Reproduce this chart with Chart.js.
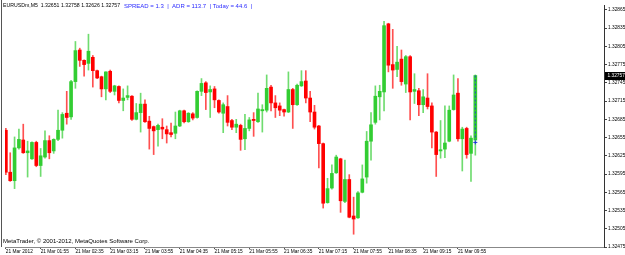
<!DOCTYPE html>
<html><head><meta charset="utf-8">
<script src="https://cdn.jsdelivr.net/npm/chart.js@4.4.0/dist/chart.umd.min.js"></script>
<style>html,body{margin:0;padding:0;background:#fff;overflow:hidden}canvas{display:block}</style>
</head><body>
<canvas id="c" width="625" height="255" style="width:625px;height:255px"></canvas>
<script>
const symbolInfo = 'EURUSDm,M5  1.32651 1.32758 1.32626 1.32757';
const indicatorInfo = 'SPREAD = 1.3  |  ADR = 113.7  | Today = 44.6  |';
const copyright = 'MetaTrader, \u00A9 2001-2012, MetaQuotes Software Corp.';

// bar times: M5 bars from 01:15 to 10:15, 21 Mar 2012
const barTimes = [];
for (let m = 75; m <= 615; m += 5) {
  barTimes.push(String(Math.floor(m / 60)).padStart(2, '0') + ':' + String(m % 60).padStart(2, '0'));
}

const openP = [
1.32667,1.32598,1.32584,1.32638,1.32651,1.32630,1.32620,1.32647,1.32609,1.32623,
1.32650,1.32633,1.32652,1.32667,1.32695,1.32689,1.32747,1.32799,1.32782,1.32777,
1.32787,1.32765,1.32755,1.32735,1.32764,1.32731,1.32739,1.32716,1.32721,1.32723,
1.32685,1.32696,1.32710,1.32682,1.32673,1.32668,1.32672,1.32668,1.32663,1.32662,
1.32674,1.32699,1.32681,1.32694,1.32688,1.32731,1.32745,1.32730,1.32735,1.32716,
1.32695,1.32706,1.32683,1.32672,1.32675,1.32653,1.32670,1.32685,1.32681,1.32699,
1.32700,1.32738,1.32712,1.32707,1.32701,1.32697,1.32734,1.32709,1.32740,1.32748,
1.32720,1.32697,1.32674,1.32645,1.32548,1.32572,1.32597,1.32620,1.32550,1.32586,
1.32526,1.32523,1.32565,1.32590,1.32649,1.32680,1.32722,1.32730,1.32842,1.32775,
1.32767,1.32784,1.32743,1.32788,1.32731,1.32732,1.32709,1.32720,1.32707,1.32664,
1.32633,1.32636,1.32649,1.32701,1.32728,1.32653,1.32670,1.32629,1.32651];
const highP = [
1.32670,1.32630,1.32656,1.32669,1.32677,1.32649,1.32648,1.32649,1.32637,1.32666,
1.32658,1.32653,1.32700,1.32696,1.32731,1.32749,1.32813,1.32802,1.32783,1.32825,
1.32790,1.32766,1.32756,1.32763,1.32766,1.32741,1.32740,1.32735,1.32740,1.32724,
1.32711,1.32728,1.32717,1.32690,1.32674,1.32677,1.32686,1.32674,1.32679,1.32697,
1.32700,1.32700,1.32696,1.32696,1.32732,1.32752,1.32747,1.32740,1.32739,1.32717,
1.32712,1.32724,1.32685,1.32685,1.32677,1.32693,1.32688,1.32696,1.32728,1.32709,
1.32758,1.32741,1.32724,1.32712,1.32702,1.32763,1.32736,1.32743,1.32765,1.32765,
1.32731,1.32708,1.32675,1.32646,1.32588,1.32610,1.32626,1.32621,1.32618,1.32594,
1.32557,1.32566,1.32610,1.32665,1.32696,1.32740,1.32741,1.32846,1.32843,1.32833,
1.32805,1.32799,1.32790,1.32790,1.32760,1.32736,1.32734,1.32760,1.32712,1.32665,
1.32683,1.32707,1.32707,1.32758,1.32752,1.32672,1.32672,1.32658,1.32758];
const lowP = [
1.32594,1.32583,1.32571,1.32636,1.32629,1.32590,1.32619,1.32607,1.32591,1.32621,
1.32620,1.32629,1.32650,1.32654,1.32677,1.32685,1.32736,1.32772,1.32756,1.32766,
1.32738,1.32752,1.32722,1.32717,1.32729,1.32725,1.32712,1.32699,1.32717,1.32683,
1.32684,1.32664,1.32680,1.32636,1.32627,1.32641,1.32653,1.32646,1.32656,1.32653,
1.32673,1.32679,1.32680,1.32684,1.32687,1.32724,1.32701,1.32688,1.32704,1.32695,
1.32663,1.32674,1.32668,1.32663,1.32634,1.32635,1.32666,1.32657,1.32680,1.32664,
1.32697,1.32699,1.32688,1.32691,1.32690,1.32696,1.32670,1.32708,1.32739,1.32712,
1.32681,1.32669,1.32605,1.32539,1.32547,1.32570,1.32596,1.32532,1.32548,1.32523,
1.32496,1.32522,1.32564,1.32580,1.32618,1.32677,1.32684,1.32699,1.32763,1.32736,
1.32755,1.32741,1.32729,1.32684,1.32711,1.32691,1.32696,1.32702,1.32638,1.32591,
1.32621,1.32622,1.32648,1.32700,1.32649,1.32600,1.32621,1.32583,1.32626];
const closeP = [
1.32598,1.32584,1.32638,1.32652,1.32630,1.32633,1.32647,1.32609,1.32625,1.32650,
1.32630,1.32652,1.32667,1.32693,1.32688,1.32747,1.32798,1.32782,1.32775,1.32797,
1.32765,1.32753,1.32735,1.32763,1.32731,1.32740,1.32716,1.32720,1.32724,1.32685,
1.32696,1.32710,1.32681,1.32670,1.32666,1.32675,1.32669,1.32661,1.32660,1.32674,
1.32699,1.32681,1.32695,1.32687,1.32731,1.32744,1.32729,1.32734,1.32717,1.32697,
1.32709,1.32680,1.32672,1.32677,1.32652,1.32670,1.32684,1.32683,1.32702,1.32701,
1.32736,1.32712,1.32704,1.32700,1.32697,1.32734,1.32709,1.32741,1.32747,1.32720,
1.32697,1.32672,1.32645,1.32547,1.32571,1.32596,1.32623,1.32551,1.32586,1.32524,
1.32521,1.32564,1.32587,1.32649,1.32676,1.32723,1.32731,1.32839,1.32774,1.32766,
1.32779,1.32747,1.32788,1.32730,1.32734,1.32709,1.32722,1.32706,1.32664,1.32627,
1.32635,1.32646,1.32700,1.32725,1.32653,1.32669,1.32627,1.32654,1.32757];

const markerPrice = 1.32647;
const yTicks = [1.32865,1.32835,1.32805,1.32775,1.32745,1.32715,1.32685,1.32655,1.32625,1.32595,1.32565,1.32535,1.32505,1.32475];
const xTickLabels = ['21 Mar 2012','21 Mar 01:55','21 Mar 02:35','21 Mar 03:15','21 Mar 03:55','21 Mar 04:35','21 Mar 05:15','21 Mar 05:55','21 Mar 06:35','21 Mar 07:15','21 Mar 07:55','21 Mar 08:35','21 Mar 09:15','21 Mar 09:55'];
const xTickIndex = xTickLabels.map((l, k) => k === 0 ? 0 : barTimes.indexOf(l.slice(-5)));

const BULL = '#32cd32', BEAR = '#ff0000';
const BULL_W = '#6fdc6f', BEAR_W = '#ff5050';
const lastIdx = closeP.length - 1;
const lastPrice = closeP[lastIdx];
const FONT = '"Liberation Sans", Arial, sans-serif';

const deco = {
  id: 'deco',
  afterDraw(chart) {
    const {ctx, chartArea: a, scales: {y}} = chart;
    ctx.save();
    ctx.strokeStyle = '#555'; ctx.lineWidth = 1;
    ctx.beginPath(); ctx.moveTo(1.5, 0); ctx.lineTo(1.5, a.bottom); ctx.stroke();
    ctx.textBaseline = 'middle'; ctx.textAlign = 'left';
    ctx.font = '5.2px ' + FONT; ctx.fillStyle = '#000';
    ctx.fillText(symbolInfo, 3, 6);
    ctx.fillStyle = '#2a2aff'; ctx.font = '6px ' + FONT;
    ctx.fillText(indicatorInfo, 124, 6);
    ctx.font = '6px ' + FONT; ctx.fillStyle = '#000';
    ctx.fillText(copyright, 3, 241.5);
    const py = y.getPixelForValue(lastPrice);
    ctx.fillStyle = '#000'; ctx.fillRect(605, Math.round(py) - 4, 20, 8);
    ctx.fillStyle = '#fff'; ctx.font = '4.8px ' + FONT;
    ctx.fillText(lastPrice.toFixed(5), 607.5, py);
    ctx.restore();
  }
};

new Chart(document.getElementById('c'), {
  data: {
    datasets: [
      {
        type: 'bar', label: 'wick', order: 3, grouped: false,
        data: barTimes.map((t, i) => ({x: i, y: [lowP[i], highP[i]]})),
        backgroundColor: c => closeP[c.dataIndex] >= openP[c.dataIndex] ? BULL_W : BEAR_W,
        barThickness: 1, borderWidth: 0
      },
      {
        type: 'bar', label: 'body', order: 2, grouped: false,
        data: barTimes.map((t, i) => ({x: i, y: [openP[i], closeP[i]]})),
        backgroundColor: c => closeP[c.dataIndex] >= openP[c.dataIndex] ? BULL : BEAR,
        barThickness: 3, minBarLength: 1, borderWidth: 0
      },
      {
        type: 'line', label: 'range', order: 1,
        data: [{x: lastIdx, y: closeP[lastIdx]}, {x: lastIdx, y: openP[lastIdx]}],
        borderColor: '#2a3fd0', borderWidth: 1, borderDash: [2, 2], pointRadius: 0
      },
      {
        type: 'scatter', label: 'marker', order: 0,
        data: [{x: lastIdx, y: markerPrice}],
        pointStyle: 'cross', pointRadius: 2, borderColor: '#2030e0', borderWidth: 1
      }
    ]
  },
  options: {
    responsive: false, animation: false, events: [],
    layout: {padding: {left: 1, top: 0, right: 0, bottom: 0}},
    plugins: {legend: {display: false}, tooltip: {enabled: false}},
    scales: {
      x: {
        type: 'linear', min: -0.2, max: 137.6, offset: false,
        afterBuildTicks: s => { s.ticks = xTickIndex.map(v => ({value: v})); },
        afterFit: s => { s.height = 8; s.paddingLeft = 0; s.paddingRight = 0; },
        ticks: {
          autoSkip: false, maxRotation: 0, minRotation: 0, align: 'start', padding: 0,
          color: '#000', font: {family: FONT, size: 4.8},
          callback: v => xTickLabels[xTickIndex.indexOf(v)] || ''
        },
        grid: {drawOnChartArea: false, offset: false, tickLength: 2, color: '#555'},
        border: {display: true, color: '#888', dash: [1, 1]}
      },
      y: {
        type: 'linear', position: 'right', min: 1.32475, max: 1.32873,
        afterBuildTicks: s => { s.ticks = yTicks.map(v => ({value: v})); },
        afterFit: s => { s.width = 21; s.paddingTop = 0; s.paddingBottom = 0; },
        ticks: {
          autoSkip: false, padding: 1, color: '#000', font: {family: FONT, size: 4.8},
          callback: v => Number(v).toFixed(5)
        },
        grid: {drawOnChartArea: false, tickLength: 3, color: '#444'},
        border: {display: true, color: '#333'}
      }
    }
  },
  plugins: [deco]
});
</script>
</body></html>
